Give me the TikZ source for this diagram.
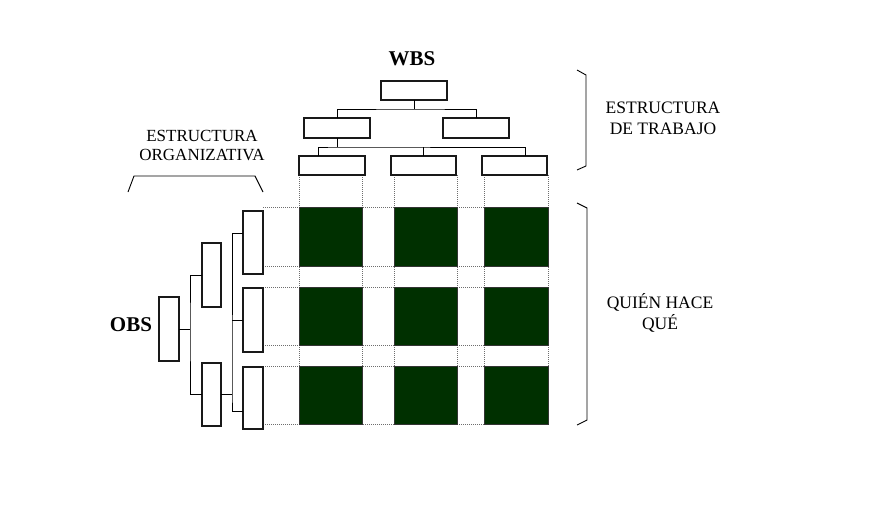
\documentclass[tikz,border=0pt]{standalone}
\usepackage{fontspec}
\setmainfont{Liberation Serif}
\definecolor{cellgreen}{RGB}{0,48,0}
\definecolor{dotgray}{RGB}{110,110,110}
\begin{document}
\begin{tikzpicture}[x=1pt,y=-1pt,
  box/.style={draw=black!90,line width=1.6pt,fill=white,inner sep=0pt,outer sep=0pt},
  link/.style={draw=black,line width=0.9pt},
  dotline/.style={draw=dotgray,line width=0.7pt,dash pattern=on 1pt off 1pt},
  cell/.style={fill=cellgreen,draw=black!80,line width=0.6pt},
  brack/.style={draw=black,line width=0.9pt},
  lbl/.style={font=\fontsize{17.5}{21}\selectfont,align=center,inner sep=0pt},
  big/.style={font=\fontsize{21}{24}\selectfont\bfseries,inner sep=0pt}]
\useasboundingbox (0,0) rectangle (870,525);

% dotted guide lines (grid)
\foreach \y in {207,266,287,345,366,424}{\draw[dotline] (263,\y) -- (548,\y);}
\foreach \x in {299,362,394,457,484,548}{\draw[dotline] (\x,175) -- (\x,424);}

% green cells
\foreach \xa/\xb in {299/362,394/457,484/548}{
  \foreach \ya/\yb in {207/266,287/345,366/424}{
    \draw[cell] (\xa,\ya) rectangle (\xb,\yb);}}

% WBS tree
\node[big] (wbs) at (412,59) {WBS};
\node[box,minimum width=66pt,minimum height=19pt] (w0) at (414,90.5) {};
\node[box,minimum width=66pt,minimum height=20pt] (w1) at (337,128) {};
\node[box,minimum width=66pt,minimum height=20pt] (w2) at (476,128) {};
\node[box,minimum width=66pt,minimum height=19pt] (w3a) at (332,165.5) {};
\node[box,minimum width=65pt,minimum height=19pt] (w3b) at (423.5,165.5) {};
\node[box,minimum width=65pt,minimum height=19pt] (w3c) at (514.5,165.5) {};
\draw[link] (w0.south) -- ++(0,9) coordinate (j1);
\draw[link] (w1.north) |- (j1) -| (w2.north);
\draw[link] (w1.south) -- ++(0,9) coordinate (j2);
\draw[link] ([xshift=-14pt]w3a.north) |- (j2) -| ([xshift=10.5pt]w3c.north);
\draw[link] (w3b.north) -- (w3b.north |- j2);

% OBS tree
\node[big] (obs) at (131,325) {OBS};
\node[box,minimum width=20pt,minimum height=64pt] (o0) at (169,329) {};
\node[box,minimum width=19pt,minimum height=64pt] (o1) at (211.5,275) {};
\node[box,minimum width=19pt,minimum height=63pt] (o2) at (211.5,394.5) {};
\node[box,minimum width=20pt,minimum height=63pt] (o3a) at (253,242.5) {};
\node[box,minimum width=20pt,minimum height=64pt] (o3b) at (253,320) {};
\node[box,minimum width=20pt,minimum height=62pt] (o3c) at (253,398) {};
\draw[link] (o0.east) -- ++(11,0) coordinate (k1);
\draw[link] (o1.west) -| (k1) |- (o2.west);
\draw[link] (o2.east) -- ++(11,0) coordinate (k2);
\draw[link] ([yshift=9.5pt]o3a.west) -| (k2) |- ([yshift=-13pt]o3c.west);
\draw[link] (o3b.west) -- (o3b.west -| k2);

% labels
\node[lbl,font=\fontsize{17}{19}\selectfont] (org) at (202,145) {ESTRUCTURA\\ORGANIZATIVA};
\node[lbl] (trab) at (663,118.5) {ESTRUCTURA\\DE TRABAJO};
\node[lbl] (quien) at (660,313) {QUIÉN HACE\\QUÉ};

% brackets
\draw[brack] (128,192) -- (134,176) -- (255,176) -- (263,192);
\draw[brack] (577,70) -- (586,75) -- (586,166) -- (577,170);
\draw[brack] (577,203) -- (587,208) -- (587,420) -- (577,425);
\end{tikzpicture}
\end{document}
